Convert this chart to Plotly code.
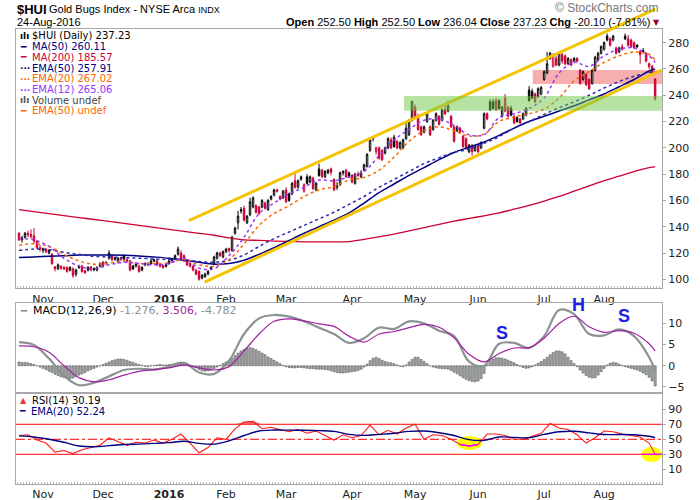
import numpy as np
import pandas as pd
import plotly.graph_objects as go

# trading sessions shown on the chart (weekends + US market holidays skipped)
holidays = ["2015-11-26", "2015-12-25", "2016-01-01", "2016-01-18",
            "2016-02-15", "2016-03-25", "2016-05-30", "2016-07-04"]
days = pd.bdate_range("2015-10-21", "2016-08-24")
days = days[~days.isin(pd.to_datetime(holidays))] + pd.Timedelta(hours=12)

# daily OHLC of $HUI (one line per month)
opens = [
    135, 130, 132, 135, 134, 133, 129, 124,
    122, 123, 120, 119, 109.5, 108, 110, 109, 109, 107, 108, 104, 110, 110, 106.5, 107, 109.5, 108, 107, 110,
    113, 113, 116, 118, 116, 113, 116.5, 118, 115, 114, 110, 110, 110, 107, 112, 112, 112, 115, 114, 111.5, 110.5, 111,
    112, 115, 116, 119, 120, 118, 114, 112, 110, 107, 106, 101, 102, 104, 109, 112, 116, 120, 117,
    121, 123.5, 122, 135, 143, 153, 154, 143, 149, 155, 156, 155, 155, 158, 153, 161, 164, 168, 163, 162,
    168, 165, 165, 175, 170, 176, 167, 178, 174, 177, 168, 184, 183, 178, 181, 184, 176, 170, 172, 181, 183, 181,
    179, 173, 180, 178, 183, 186, 198, 208, 197, 200, 198, 196, 200, 206, 208, 205, 200, 200, 207, 210, 221,
    231, 224, 216, 212, 220, 216, 214, 221, 224, 221, 229, 228, 224, 216, 213, 215, 209, 207, 197, 202, 198,
    202, 200, 215, 226, 235, 235, 236, 236, 224, 238, 231, 230, 224, 223, 222, 222, 225, 244, 243, 241, 239, 241,
    252, 257, 268, 262, 268, 263, 271, 270, 264, 267, 266, 268, 259, 252, 256, 252, 249, 259, 267, 272,
    275, 285, 283, 282, 276, 273, 277, 285, 283, 282, 280, 278, 273, 274, 272, 264, 262, 252.5,
]
highs = [
    136, 133, 136, 137, 138, 139, 130, 126,
    124, 124, 123, 120, 110, 112, 110.5, 110, 110, 110, 109, 108, 111, 111, 107, 110, 110, 109, 110, 113,
    114, 113.5, 122, 119, 117, 117, 117, 119, 116, 115, 111, 113, 111, 110, 113, 113, 115, 115.5, 115, 112, 111, 112,
    115, 116, 119, 125, 122, 119, 115, 113, 111, 108, 107, 104, 105, 107, 110, 118, 121, 121, 122,
    124, 124, 133, 140, 152, 155, 156, 149, 162, 163, 157, 156, 161, 159, 161, 164, 169, 169, 164, 168,
    170, 166, 174, 181, 176, 179, 173, 180, 179, 178, 174, 188, 184, 183, 184, 185, 177, 174, 182, 183, 184, 182,
    180, 181, 182, 183, 188, 196, 207, 209, 201, 201, 199, 201, 208, 208, 210, 206, 205, 207, 219, 222, 236,
    233, 226, 217, 217, 227, 217, 222, 227, 225, 230, 233, 236, 225, 217, 217, 216, 210, 208, 203, 203, 202,
    203, 205, 227, 227, 237, 237, 238, 237, 232, 241, 232, 232, 225, 224, 223, 227, 231, 247, 245, 242, 246, 247,
    259, 273, 273, 272, 270, 273, 272, 271, 269, 268, 269, 269, 260, 259, 257, 253, 260, 270, 273, 278,
    281, 287, 284, 286, 277, 277, 279, 287, 286, 283, 281, 279, 274, 276, 273, 265, 263, 252.5,
]
lows = [
    129, 128, 131, 132, 131, 127, 123, 121,
    120, 120, 119, 111, 106, 107, 107, 107, 105, 106, 101, 102, 108, 105, 104, 106, 106, 106, 106, 109,
    109, 111, 115, 114, 114, 112, 114, 114, 113, 106, 107, 109, 105, 106, 110, 110, 111, 113, 110, 109, 108, 109,
    111, 113, 115, 118, 115, 113, 110, 109, 106, 103, 99, 100, 101, 103, 107, 111, 115, 117, 116,
    120, 120, 121, 134, 138, 150, 144, 142, 148, 154, 150, 149, 154, 153, 152, 160, 163, 166, 160, 161,
    158, 159, 164, 169, 169, 175, 166, 172, 173, 168, 167, 178, 177, 177, 180, 179, 167, 168, 171, 179, 177, 177,
    173, 172, 178, 177, 182, 185, 197, 205, 195, 191, 190, 195, 199, 199, 200, 199, 199, 199, 206, 209, 220,
    223, 213, 209, 211, 219, 209, 213, 220, 217, 220, 225, 227, 215, 204, 212, 211, 200, 199, 196, 194, 197,
    196, 199, 214, 221, 228, 229, 228, 229, 223, 227, 223, 224, 218, 219, 218, 221, 224, 235, 237, 234, 238, 240,
    251, 256, 267, 261, 262, 262, 264, 263, 263, 262, 265, 265, 248, 251, 247, 244, 248, 258, 266, 271,
    274, 281, 277, 281, 271, 272, 274, 282, 277, 276, 275, 276, 264, 272, 265, 260, 256, 236.04,
]
closes = [
    130, 131.5, 135, 134, 132.5, 129, 124, 123,
    123.5, 121, 122, 112, 108, 111, 108.5, 108, 106, 109, 103, 107, 109, 106, 105, 109, 107, 107.5, 109, 112,
    110, 112, 120, 115, 115.5, 116, 115, 115.5, 114, 107, 108, 112, 106, 109, 111, 111.5, 114, 114, 111, 110, 109, 110,
    114, 114.5, 118, 123, 116, 114, 111, 110, 107, 104, 100, 103, 104, 106, 108, 117, 120, 118, 121,
    123, 122, 132, 139, 148, 152, 145, 148, 159, 162, 151, 150, 160, 154, 160, 163, 168, 167, 161, 167,
    159, 160, 173, 170, 175, 178, 172, 173, 178, 169, 173, 179, 178, 182, 183, 181.5, 168, 171, 181, 182, 178, 178,
    174, 180, 179, 181, 187, 195, 206, 207, 200, 192, 191, 200, 207, 200, 201, 200, 204, 206, 215, 220, 235,
    224, 214, 210, 216, 226, 210, 221, 226, 218, 229, 226, 232, 216, 205, 216, 212, 201, 200, 202, 197, 201,
    197, 204, 226, 222, 229, 230, 229, 230, 231, 228, 224, 225, 219, 220, 219, 226, 230, 236, 238, 235, 245, 246,
    258, 264, 272, 271, 263, 272, 266, 264, 268, 263, 268, 266, 249, 258, 248, 245, 259, 269, 272, 277,
    280, 282, 278, 285, 272, 276, 275, 283, 278, 277, 276, 277, 271, 273, 266, 262, 257.33, 237.23,
]
assert len(opens) == len(highs) == len(lows) == len(closes) == len(days)

# overlays read every 5th session (plus the last one)
ind_days = list(days[::5]) + [days[-1]]
ma200 = [153, 151.5, 150, 148.5, 147, 145.5, 144, 142.5, 141, 139.5, 138, 136.5, 135, 133.5, 131.5,
         130, 129.6, 129.1, 128.8, 128.5, 128.4, 128.5, 128.7, 130.3, 132.3, 134.3, 136.8, 139.3, 141.8,
         144.2, 146.3, 148.3, 150.5, 153.3, 156.3, 159.5, 163, 167, 171, 175, 178.5, 182, 185, 185.57]
ma50 = [116.5, 117, 117.5, 118, 118.5, 118.5, 118.5, 118.3, 117.8, 117, 116, 114.5, 113, 111.5, 112,
        114.5, 119, 124, 129.5, 135, 140, 145, 150.5, 158, 166, 172.5, 179, 185, 191, 196.5, 200.5,
        204.5, 209.5, 215, 220, 224, 228, 232, 236.5, 241, 246.5, 252, 258.5, 260.11]
ema50 = [122, 123, 122.5, 120.5, 119, 117.5, 117, 116.5, 116, 115.5, 115, 115, 113.5, 113, 114.5,
         118.5, 125, 131, 136, 141, 146, 151, 157, 163, 170, 176, 182, 188, 192.5, 196.5, 199, 203.5,
         208.5, 215, 220, 225.5, 230.5, 235, 240, 245.5, 250.5, 254.5, 257.3, 257.91]
ema20 = [126, 127, 125, 119, 114, 111.5, 112.5, 113.5, 112, 112, 112.5, 115, 111, 110, 115, 127,
         141, 150, 156, 163, 168, 170.5, 175.5, 177.5, 183, 193, 205, 213, 216, 213, 209, 210.5, 220,
         223.5, 226, 229.5, 238, 251, 258, 265, 270, 273, 271, 267.02]
ema12 = [131, 130, 125, 116, 110, 108, 111, 113, 112, 111, 112, 116, 108.5, 108, 118, 132, 150, 158,
         165, 170, 175.5, 175, 178, 182, 194, 206, 214, 221, 222, 217, 210, 210, 223, 226, 230, 238,
         257, 265, 262, 270, 275, 276, 270, 265.06]

# MACD(12,26,9) line and signal, same sessions as the overlays
macd = [5.6, 4.9, 1.7, -2.4, -4.6, -4.0, -2.5, -1.0, -0.7, -0.9, -0.2, 0.7, -1.6, -1.9, 1.2, 7.5,
        11.2, 12.0, 11.6, 10.5, 9.0, 7.5, 5.4, 6.5, 9.0, 8.7, 10.5, 10.0, 8.3, 7.0, 1.0, 0.0, 5.2,
        5.4, 4.2, 7.0, 13.2, 12.2, 7.5, 7.2, 8.6, 7.0, 2.0, -1.276]
signal = [4.7, 4.5, 3.2, 0.0, -2.8, -3.8, -3.3, -2.2, -1.3, -0.9, -0.5, 0.2, -0.5, -1.0, -0.2, 3.5,
          7.5, 10.5, 11.1, 10.6, 9.9, 9.3, 7.0, 5.6, 7.5, 8.1, 9.0, 9.8, 9.1, 6.6, 2.7, 0.9, 2.9, 4.2,
          4.3, 6.5, 10.0, 11.7, 9.2, 7.9, 8.3, 7.7, 5.2, 3.506]
# daily MACD histogram
macd_hist = [
    0.9, 0.8, 0.8, 0.7, 0.5, 0.3, 0.0, -0.3, -0.6, -0.9, -1.3, -1.6, -2.0, -2.3, -2.6,
    -2.8, -3.0, -3.0, -2.9, -2.6, -2.2, -1.9, -1.6, -1.2, -0.9, -0.6, -0.3, 0.0, 0.3, 0.6,
    0.9, 1.2, 1.4, 1.6, 1.6, 1.5, 1.3, 1.0, 0.8, 0.5, 0.3, 0.1, -0.1, -0.2, 0.0,
    0.1, 0.2, 0.3, 0.2, 0.2, 0.3, 0.4, 0.6, 0.8, 0.9, 0.7, 0.5, 0.2, -0.1, -0.5,
    -0.9, -1.2, -1.3, -1.2, -1.0, -0.7, -0.3, 0.1, 0.5, 0.9, 1.3, 1.8, 2.4, 3.0, 3.5,
    3.9, 4.2, 4.3, 4.1, 3.8, 3.4, 3.0, 2.6, 2.1, 1.7, 1.3, 0.9, 0.5, 0.1, -0.2,
    -0.4, -0.5, -0.5, -0.4, -0.4, -0.5, -0.6, -0.7, -0.7, -0.8, -0.8, -0.8, -0.9, -1.0, -1.2,
    -1.4, -1.6, -1.7, -1.7, -1.6, -1.5, -1.4, -1.3, -1.1, -0.8, -0.3, 0.4, 1.2, 1.8, 2.0,
    1.7, 1.3, 1.0, 0.8, 0.7, 0.5, 0.2, -0.1, -0.2, 0.2, 0.9, 1.5, 2.0, 2.0, 1.5,
    1.0, 0.5, 0.0, -0.3, -0.5, -0.6, -0.7, -0.7, -0.8, -1.1, -1.5, -1.9, -2.4, -2.8, -3.2,
    -3.5, -3.7, -3.8, -3.6, -3.0, -1.8, 0.2, 1.2, 1.6, 1.9, 1.9, 1.8, 1.6, 1.3, 1.0,
    0.7, 0.3, -0.1, -0.4, -0.6, -0.5, -0.2, 0.2, 0.6, 1.0, 1.5, 2.0, 2.6, 3.1, 3.5,
    3.5, 3.3, 2.8, 2.0, 1.2, 0.5, -0.2, -1.0, -1.7, -2.3, -2.7, -2.9, -2.8, -2.2, -1.4,
    -0.6, 0.2, 0.6, 0.8, 0.7, 0.4, 0.1, -0.2, -0.4, -0.6, -0.8, -1.0, -1.3, -1.7, -2.1,
    -2.7, -3.6, -4.782,
]
assert len(macd_hist) == len(days)

# RSI(14) read every 3rd session (plus the last), its EMA(20) every 5th
rsi_days = list(days[::3]) + [days[-1]]
rsi = [55, 56, 49, 45, 33, 35, 31, 36, 39, 42, 52, 47, 42, 46, 45, 49, 45, 50, 57, 45, 32, 39, 52, 50,
       64, 73, 74, 64, 66, 63, 60, 63, 58, 61, 55, 49, 56, 52, 55, 69, 56, 62, 57, 65, 70, 50, 56, 55,
       50, 43, 41, 43, 57, 57, 55, 50, 50, 54, 58, 71, 65, 63, 56, 45, 52, 61, 60, 57, 55, 53, 45, 30.19]
rsi_ema = [54.5, 53, 50, 46, 41, 40, 41.5, 43, 43.5, 44.5, 45.5, 47.3, 44.5, 43.5, 48, 55, 61, 62.3,
           62.2, 62, 61.5, 60.5, 56.5, 55.2, 56.5, 58, 60.5, 61, 58.8, 55, 49.5, 48.6, 53, 52.5, 52,
           56.5, 60, 60.7, 58.5, 56.3, 56.3, 56, 54, 52.24]

# hand-drawn marks: channel lines, support/resistance zones, RSI highlights
upper_x, upper_y = ["2016-01-11 20:00", "2016-08-23 12:00"], [144.7, 305.6]
lower_x, lower_y = ["2016-01-19 10:00", "2016-08-26 17:00"], [97.9, 259.2]
green_zone = ("2016-04-26 19:00", 228.3, 239.5)
pink_zone = ("2016-06-27 17:00", 248.6, 259.3)
rsi_spots = [("2016-05-20 12:00", "2016-06-02 18:00", 35.7, 54.4),
             ("2016-08-17 20:00", "2016-08-26 19:00", 19.7, 39.7)]

month_ticks = pd.to_datetime(["2015-11-02", "2015-12-01", "2016-01-04", "2016-02-01", "2016-03-01",
                              "2016-04-01", "2016-05-02", "2016-06-01", "2016-07-01",
                              "2016-08-01"]) + pd.Timedelta(hours=12)
month_labels = ["Nov", "Dec", "<b>2016</b>", "Feb", "Mar", "Apr", "May", "Jun", "Jul", "Aug"]

X_START, X_END = "2015-10-20 12:00", "2016-08-26 19:00"
RED = "#cc0033"
NAVY = "#000080"
FONT = "DejaVu Sans, Verdana, sans-serif"
ARIAL = "Liberation Sans, Arial, sans-serif"
W, H = 700, 500

fig = go.Figure()

# --- price panel ---
o, h, l, c = map(np.array, (opens, highs, lows, closes))
prev = np.r_[o[0], c[:-1]]
up = c >= prev
hollow = c > o
for mask, col, fill in [(up & hollow, "#000000", "#ffffff"), (up & ~hollow, "#000000", "#000000"),
                        (~up & hollow, RED, "#ffffff"), (~up & ~hollow, RED, RED)]:
    fig.add_trace(go.Candlestick(
        x=days[mask], open=o[mask], high=h[mask], low=l[mask], close=c[mask],
        increasing=dict(line=dict(color=col, width=1), fillcolor=fill),
        decreasing=dict(line=dict(color=col, width=1), fillcolor=fill),
        whiskerwidth=0, hoverinfo="skip", xaxis="x", yaxis="y"))

for vals, col, width, dash in [(ma200, RED, 1.3, "solid"), (ma50, NAVY, 1.5, "solid"),
                               (ema50, "#2b2bb0", 1.5, "dot"), (ema20, "#ff6600", 1.5, "dot"),
                               (ema12, "#9933ff", 1.5, "dot")]:
    fig.add_trace(go.Scatter(x=ind_days, y=vals, mode="lines", line_shape="spline",
                             line=dict(color=col, width=width, dash=dash),
                             hoverinfo="skip", xaxis="x", yaxis="y"))

# channel lines live on a taller overlay so they can run above the panel
for xs, ys in [(upper_x, upper_y), (lower_x, lower_y)]:
    fig.add_trace(go.Scatter(x=xs, y=ys, mode="lines", line=dict(color="#f5c400", width=3),
                             hoverinfo="skip", xaxis="x4", yaxis="y4"))

# --- MACD panel ---
fig.add_trace(go.Bar(x=days, y=macd_hist, width=0.7 * 86400000,
                     marker=dict(color="#a9adad", line=dict(color="#5a5a5a", width=0.6)),
                     hoverinfo="skip", xaxis="x2", yaxis="y2"))
fig.add_trace(go.Scatter(x=ind_days, y=macd, mode="lines", line_shape="spline",
                         line=dict(color="#8a9292", width=2.2), hoverinfo="skip", xaxis="x2", yaxis="y2"))
fig.add_trace(go.Scatter(x=ind_days, y=signal, mode="lines", line_shape="spline",
                         line=dict(color="#a020a0", width=1.2), hoverinfo="skip", xaxis="x2", yaxis="y2"))

# --- RSI panel ---
rsi_arr = np.array(rsi)
fig.add_trace(go.Scatter(x=rsi_days, y=[70] * len(rsi), mode="lines", line=dict(width=0),
                         hoverinfo="skip", xaxis="x3", yaxis="y3"))
fig.add_trace(go.Scatter(x=rsi_days, y=np.maximum(rsi_arr, 70), mode="lines", line=dict(width=0),
                         fill="tonexty", fillcolor="#f06060", hoverinfo="skip", xaxis="x3", yaxis="y3"))
fig.add_trace(go.Scatter(x=rsi_days, y=rsi, mode="lines", line=dict(color="#ff1a1a", width=1.1),
                         hoverinfo="skip", xaxis="x3", yaxis="y3"))
fig.add_trace(go.Scatter(x=ind_days, y=rsi_ema, mode="lines", line_shape="spline",
                         line=dict(color=NAVY, width=1.4), hoverinfo="skip", xaxis="x3", yaxis="y3"))
# magenta highlights on the RSI dips
dip = [i for i, d in enumerate(rsi_days) if pd.Timestamp("2016-05-23") <= d <= pd.Timestamp("2016-06-02")]
fig.add_trace(go.Scatter(x=[rsi_days[i] for i in dip], y=[rsi[i] for i in dip], mode="lines",
                         line=dict(color="#ff00ff", width=1.5), hoverinfo="skip", xaxis="x3", yaxis="y3"))
fig.add_trace(go.Scatter(x=[rsi_spots[1][0], rsi_spots[1][1]], y=[30, 30], mode="lines",
                         line=dict(color="#ff00ff", width=1.5), hoverinfo="skip", xaxis="x3", yaxis="y3"))

# --- zones and reference lines ---
fig.add_shape(type="rect", xref="x", yref="y", x0=pink_zone[0], x1=X_END, y0=pink_zone[1],
              y1=pink_zone[2], fillcolor="rgba(240,120,120,0.6)", line_width=0, layer="below")
fig.add_shape(type="rect", xref="x", yref="y", x0=green_zone[0], x1=X_END, y0=green_zone[1],
              y1=green_zone[2], fillcolor="rgba(110,200,70,0.5)", line_width=0, layer="above")
for x0, x1, y0, y1 in rsi_spots:
    fig.add_shape(type="circle", xref="x3", yref="y3", x0=x0, x1=x1, y0=y0, y1=y1,
                  fillcolor="#ffff00", line_width=0, layer="below")
for lvl, dash in [(70, "solid"), (30, "solid"), (50, "dashdot")]:
    fig.add_shape(type="line", xref="x3 domain", yref="y3", x0=0, x1=1, y0=lvl, y1=lvl,
                  line=dict(color="#ff0000", width=1, dash=dash), layer="below")

# --- axes ---
xdom = [16 / W, 662 / W]
xbase = dict(type="date", domain=xdom, range=[X_START, X_END],
             rangebreaks=[dict(bounds=["sat", "mon"]), dict(values=holidays)],
             tickvals=month_ticks, ticktext=month_labels, ticks="", showgrid=False,
             showline=True, mirror=True, linecolor="#a8a8a8", linewidth=1,
             tickfont=dict(family=FONT, size=11, color="#222"), zeroline=False)
day_ticks = dict(ticks="inside", ticklen=2, tickcolor="#b8b8b8", dtick=86400000, showgrid=False)
ybase = dict(side="right", showgrid=False, zeroline=False, showline=True, mirror=True,
             linecolor="#a8a8a8", linewidth=1, ticks="outside", ticklen=3, tickcolor="#a8a8a8",
             tickfont=dict(family=FONT, size=11, color="#222"))

fig.update_layout(
    width=W, height=H, margin=dict(l=0, r=0, t=0, b=0),
    paper_bgcolor="white", plot_bgcolor="rgba(0,0,0,0)", showlegend=False,
    xaxis=dict(xbase, anchor="y", rangeslider=dict(visible=False), minor=day_ticks),
    xaxis2=dict(xbase, anchor="y2", showticklabels=False),
    xaxis3=dict(xbase, anchor="y3", minor=day_ticks),
    xaxis4=dict(xbase, anchor="y4", visible=False),
    yaxis=dict(ybase, domain=[1 - 288.3 / H, 1 - 29.3 / H], range=[93.15, 290.2],
               tickvals=list(range(100, 281, 20)), anchor="x"),
    yaxis2=dict(ybase, domain=[1 - 393.3 / H, 1 - 302.7 / H], range=[-6.5, 14.9],
                tickvals=[-5, 0, 5, 10], anchor="x2"),
    yaxis3=dict(ybase, domain=[1 - 484 / H, 1 - 393.3 / H], range=[-9.6, 111.3],
                tickvals=[10, 30, 50, 70, 90], anchor="x3"),
    yaxis4=dict(domain=[1 - 288.3 / H, 1.0], range=[93.15, 312.5], visible=False, anchor="x4"),
)


def note(px, py, text, size=10, color="#000", xanchor="left", family=FONT):
    fig.add_annotation(x=px / W, y=1 - py / H, xref="paper", yref="paper", text=text,
                       showarrow=False, xanchor=xanchor, yanchor="middle",
                       font=dict(size=size, color=color, family=family))


# header
note(15, 9, "<b>$HUI</b>", size=13, family=ARIAL)
note(47, 9, "Gold Bugs Index - NYSE Arca <span style='font-size:9px'>INDX</span>", size=11, family=ARIAL)
note(15, 22, "24-Aug-2016", size=11, family=ARIAL)
note(652, 22, "<b>Open</b> 252.50 <b>High</b> 252.50 <b>Low</b> 236.04 <b>Close</b> 237.23 "
     "<b>Chg</b> -20.10 (-7.81%)", size=11, xanchor="right", family=ARIAL)
note(662, 22, "▼", size=8, color="#990033", xanchor="right")
note(661, 8, "© StockCharts.com", size=12, color="#777", xanchor="right", family=ARIAL)

# price legend
price_legend = [("ılı", "#000", "$HUI (Daily) 237.23", "#000"),
                ("━", NAVY, "MA(50) 260.11", NAVY),
                ("━", RED, "MA(200) 185.57", RED),
                ("···", NAVY, "EMA(50) 257.91", NAVY),
                ("···", "#ff6600", "EMA(20) 267.02", "#ff6600"),
                ("···", "#9933ff", "EMA(12) 265.06", "#9933ff"),
                ("ılı", "#555", "Volume undef", "#444"),
                ("━", "#ff6600", "EMA(50) undef", "#ff6600")]
for k, (icon, icol, label, lcol) in enumerate(price_legend):
    py = 36 + k * 10.7
    note(18, py, f"<b>{icon}</b>", size=9, color=icol)
    note(30, py, label, size=10, color=lcol)

# MACD legend
note(18, 310, "<b>━</b>", size=10, color="#8a9292")
note(31, 310, "MACD(12,26,9) <span style='color:#8a9292'>-1.276,</span> "
     "<span style='color:#a020a0'>3.506,</span> <span style='color:#8a9292'>-4.782</span>", size=11)

# RSI legend
note(18, 400, "▲", size=8, color="#ee3333")
note(30, 400, "RSI(14) 30.19", size=10)
note(17, 411, "<b>━</b>", size=9, color=NAVY)
note(29, 411, "EMA(20) 52.24", size=10, color=NAVY)

# head-and-shoulders marks on MACD
for px, py, letter in [(502, 333, "S"), (578, 305, "H"), (624, 316, "S")]:
    note(px, py, f"<b>{letter}</b>", size=18, color="#1f1fe6", xanchor="center", family=ARIAL)

# the page body margin would shift the 700x500 figure; drop it
fig.write_html("out.html", config={"displayModeBar": False},
               post_script="document.body.style.margin='0';")
